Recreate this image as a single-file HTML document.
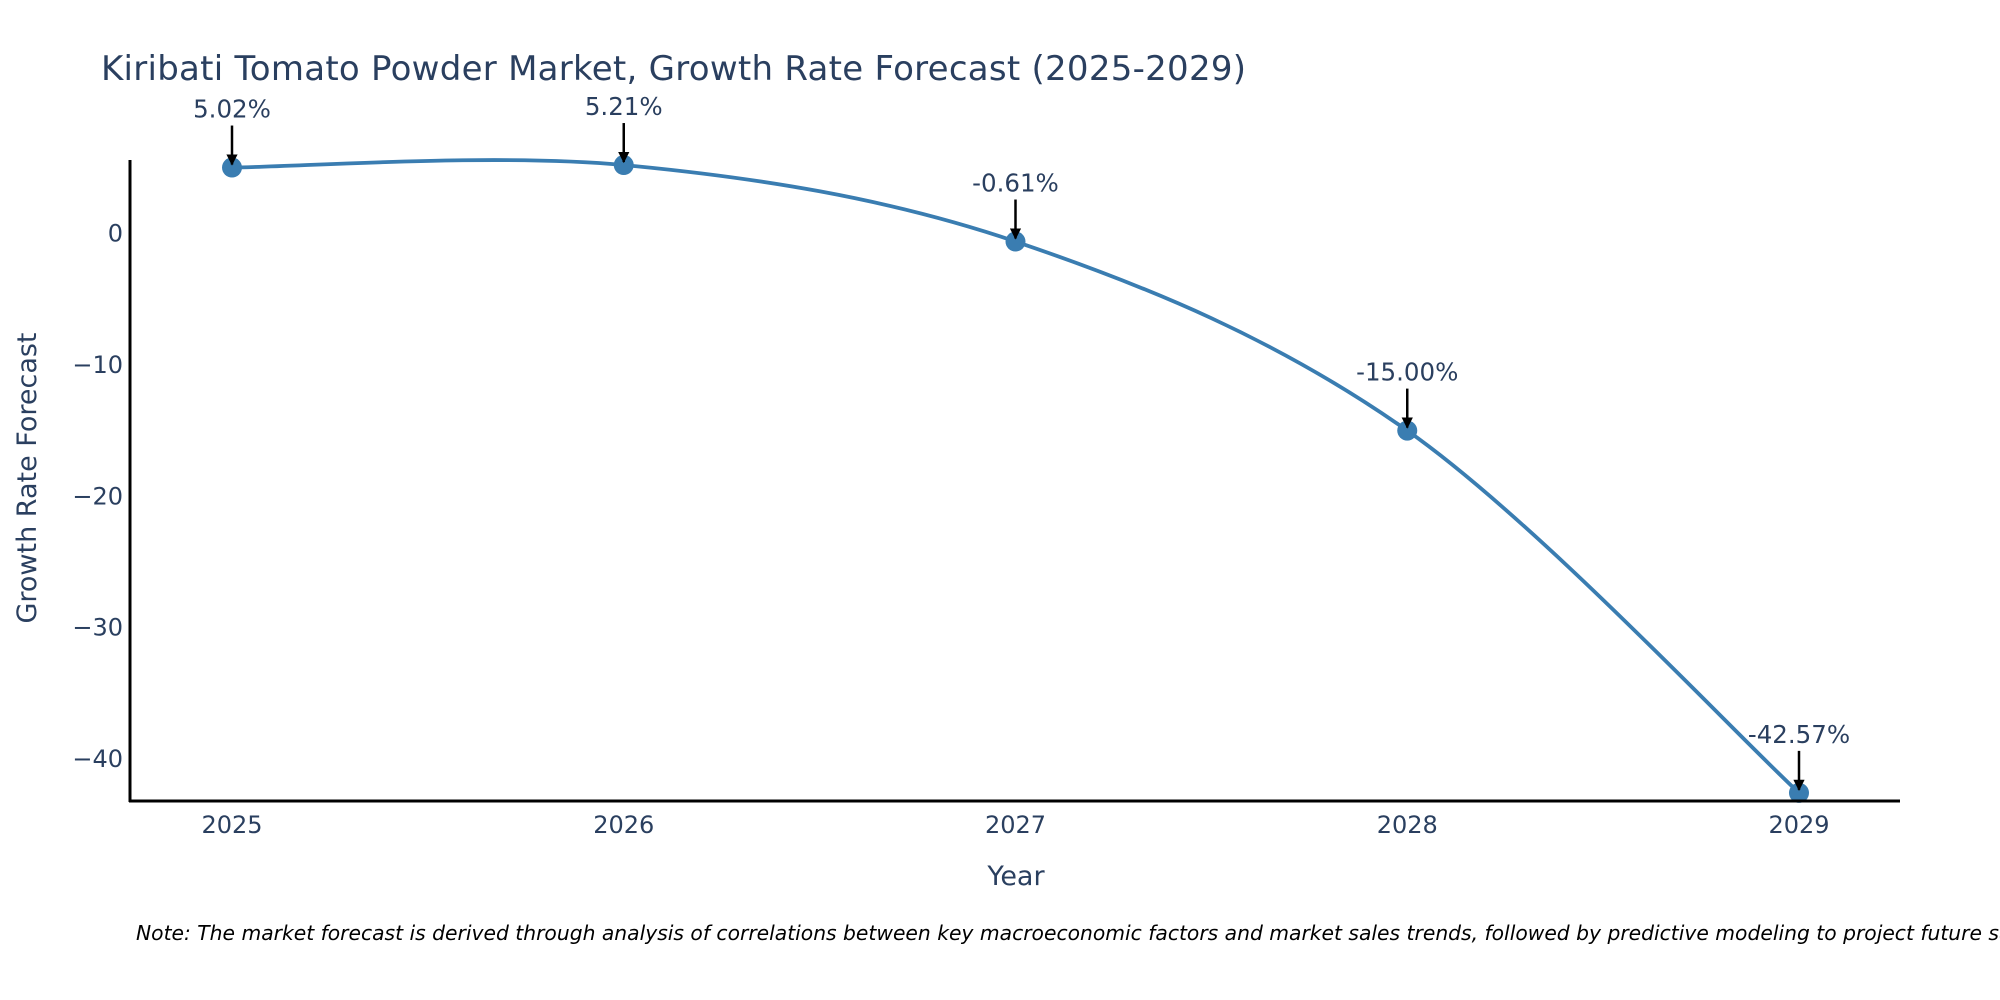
<!DOCTYPE html>
<html><head><meta charset="utf-8"><style>
html,body{margin:0;padding:0;background:#fff;}
svg{display:block;font-family:"DejaVu Sans","Liberation Sans",sans-serif;}
</style></head><body>
<svg id="chart" width="2000" height="1000" viewBox="0 0 2000 1000">
<defs>
<marker id="ah" viewBox="0 0 10 10" refX="9" refY="5" markerWidth="4.5" markerHeight="4.5" orient="auto"><path d="M0,0 L10,5 L0,10 z" fill="#000"/></marker>
</defs>
<text x="101" y="80" font-size="34" fill="#2a3f5f" textLength="1145">Kiribati Tomato Powder Market, Growth Rate Forecast (2025-2029)</text>
<g id="yticks"></g>
<g id="xticks"></g>
<g id="series"></g>
<g id="annots"></g>
<line x1="130" y1="160" x2="130" y2="802" stroke="#000" stroke-width="3"/>
<line x1="129" y1="801" x2="1900" y2="801" stroke="#000" stroke-width="3"/>
<text transform="translate(36,478) rotate(-90)" text-anchor="middle" font-size="27" fill="#2a3f5f">Growth Rate Forecast</text>
<text x="1016" y="885" text-anchor="middle" font-size="27" fill="#2a3f5f">Year</text>
<text x="136" y="940" font-size="20.3" font-style="italic" fill="#000">Note: The market forecast is derived through analysis of correlations between key macroeconomic factors and market sales trends, followed by predictive modeling to project future sales.</text>
</svg>
<script>
const years = [2025, 2026, 2027, 2028, 2029];
const growth = [5.02, 5.21, -0.61, -15.00, -42.57];
const labels = ["5.02%", "5.21%", "-0.61%", "-15.00%", "-42.57%"];
const yTicks = [0, -10, -20, -30, -40];
const yTickLabels = ["0", "\u221210", "\u221220", "\u221230", "\u221240"];

const NS = "http://www.w3.org/2000/svg";
function X(yr){ return 232 + (yr - 2025) * 391.75; }
function Y(v){ return 233.5 - v * 13.14; }
function mk(tag, attrs, parent){
  const e = document.createElementNS(NS, tag);
  for (const k in attrs) e.setAttribute(k, attrs[k]);
  parent.appendChild(e); return e;
}
const yg = document.getElementById('yticks');
yTicks.forEach((t,i)=>{
  const e = mk('text', {x:123, y:Y(t)+8, 'text-anchor':'end', 'font-size':24, fill:'#2a3f5f'}, yg);
  
  
  e.textContent = yTickLabels[i];
});
const xg = document.getElementById('xticks');
years.forEach(yr=>{
  const e = mk('text', {x:X(yr), y:833, 'text-anchor':'middle', 'font-size':24, fill:'#2a3f5f'}, xg);
  
  
  e.textContent = String(yr);
});
const pts = years.map((yr,i)=>[X(yr), Y(growth[i])]);
let d = "M" + pts[0][0] + "," + pts[0][1];
for (let i=0;i<pts.length-1;i++){
  const p0 = pts[Math.max(i-1,0)], p1 = pts[i], p2 = pts[i+1], p3 = pts[Math.min(i+2,pts.length-1)];
  const c1 = [p1[0]+(p2[0]-p0[0])/6, p1[1]+(p2[1]-p0[1])/6];
  const c2 = [p2[0]-(p3[0]-p1[0])/6, p2[1]-(p3[1]-p1[1])/6];
  d += " C"+c1[0]+","+c1[1]+" "+c2[0]+","+c2[1]+" "+p2[0]+","+p2[1];
}
const sg = document.getElementById('series');
const line = mk('path', {d:d, fill:'none', stroke:'#3a7db1', 'stroke-width':3.8}, sg);


pts.forEach((p,i)=>{
  const c = mk('circle', {cx:p[0], cy:p[1], r:10, fill:'#3a7db1'}, sg);
  
  
});
const ag = document.getElementById('annots');
pts.forEach((p,i)=>{
  const a = mk('line', {x1:p[0], y1:p[1]-42, x2:p[0], y2:p[1]-3, stroke:'#000', 'stroke-width':2.5, 'marker-end':'url(#ah)'}, ag);
  
  
  const t = mk('text', {x:p[0], y:p[1]-50, 'text-anchor':'middle', 'font-size':24.5, fill:'#2a3f5f'}, ag);
  
  
  t.textContent = labels[i];
});
</script>
</body></html>
